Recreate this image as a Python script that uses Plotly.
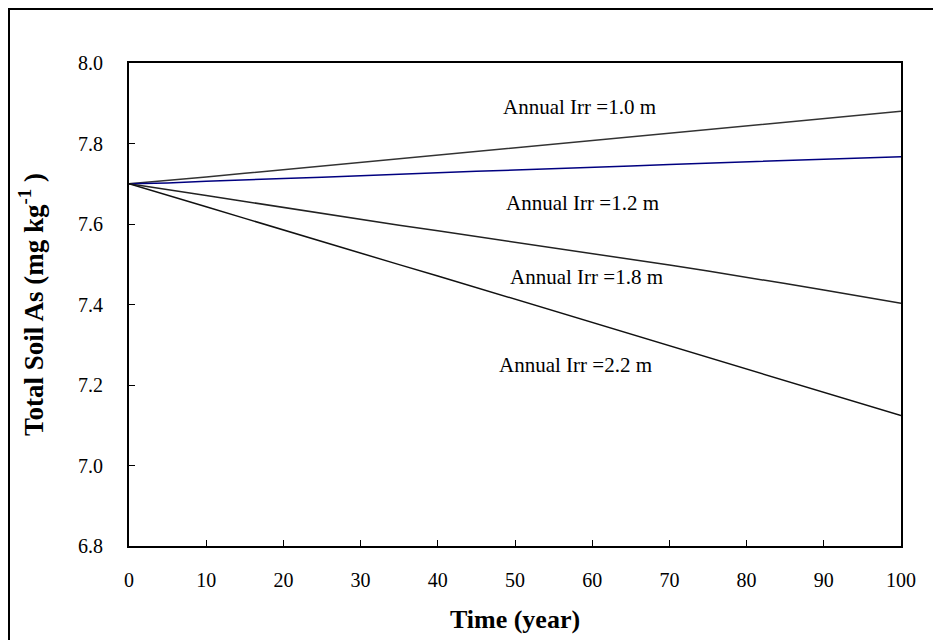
import plotly.graph_objects as go

# simulated total soil As (mg/kg) for four annual irrigation depths
years = [0, 5, 10, 15, 20, 25, 30, 35, 40, 45, 50, 55, 60, 65, 70, 75, 80, 85, 90, 95, 100]

irr_1_0 = [7.700, 7.708, 7.717, 7.726, 7.735, 7.744, 7.753, 7.763, 7.771, 7.780, 7.790,
           7.799, 7.808, 7.817, 7.826, 7.835, 7.844, 7.853, 7.862, 7.871, 7.880]
irr_1_2 = [7.700, 7.702, 7.706, 7.710, 7.713, 7.716, 7.720, 7.724, 7.727, 7.731, 7.734,
           7.737, 7.741, 7.744, 7.748, 7.751, 7.754, 7.757, 7.761, 7.764, 7.767]
irr_1_8 = [7.700, 7.686, 7.671, 7.656, 7.641, 7.627, 7.612, 7.597, 7.583, 7.569, 7.555,
           7.541, 7.527, 7.513, 7.498, 7.483, 7.468, 7.452, 7.436, 7.420, 7.403]
irr_2_2 = [7.700, 7.672, 7.643, 7.614, 7.585, 7.557, 7.528, 7.499, 7.471, 7.442, 7.413,
           7.384, 7.355, 7.326, 7.297, 7.268, 7.239, 7.210, 7.181, 7.152, 7.124]

labels = ['Annual Irr =1.0 m', 'Annual Irr =1.2 m', 'Annual Irr =1.8 m', 'Annual Irr =2.2 m']
label_x = [58.4, 58.7, 59.2, 57.9]
label_y = [7.891, 7.651, 7.469, 7.250]

FONT = '"Liberation Serif", "Times New Roman", serif'

# plot area in figure pixels (page body adds an 8px offset)
L, T, PW, PH = 121, 55, 772, 483

fig = go.Figure()
series = [(irr_1_0, '#333333'), (irr_1_2, '#000080'), (irr_1_8, '#222222'), (irr_2_2, '#111111')]
for (vals, col), name in zip(series, labels):
    fig.add_trace(go.Scatter(x=years, y=vals, mode='lines', name=name,
                             line=dict(color=col, width=1.5), showlegend=False))

for txt, lx, ly in zip(labels, label_x, label_y):
    fig.add_annotation(x=lx, y=ly, text=txt, showarrow=False,
                       font=dict(family=FONT, size=21, color='black'))

axis_common = dict(showline=True, linecolor='black', linewidth=2, mirror=True,
                   ticks='inside', ticklen=6, tickcolor='black', tickwidth=1,
                   showgrid=False, zeroline=False,
                   tickfont=dict(family=FONT, size=20, color='black'))

fig.update_xaxes(range=[0, 100], dtick=10, ticklabelstandoff=15,
                 title=dict(text='<b>Time (year)</b>', standoff=20,
                            font=dict(family=FONT, size=26, color='black')),
                 **axis_common)
fig.update_yaxes(range=[6.8, 8.0], dtick=0.2, tickformat='.1f', ticklabelstandoff=20,
                 title=dict(text='<b>Total Soil As (mg kg<sup>-1</sup> )</b>', standoff=27,
                            font=dict(family=FONT, size=27, color='black')),
                 **axis_common)

# outer frame around the whole chart
fig.add_shape(type='rect', xref='paper', yref='paper',
              x0=(1 - L) / PW, x1=(960 - L) / PW,
              y0=(T + PH - 660) / PH, y1=(T + PH - 1) / PH,
              line=dict(color='black', width=2), layer='below')

fig.update_layout(width=941, height=640,
                  font=dict(family=FONT, color='black'),
                  margin=dict(l=L, r=941 - L - PW, t=T, b=640 - T - PH),
                  paper_bgcolor='white', plot_bgcolor='white')

fig.write_html("out.html")
